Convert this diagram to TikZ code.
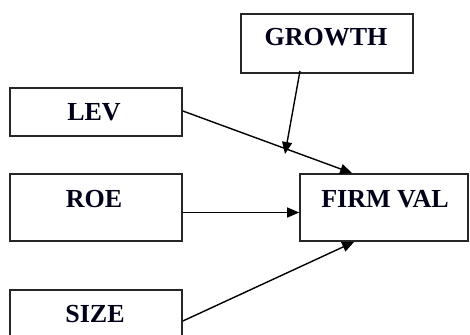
\documentclass[tikz,border=0pt]{standalone}
\usepackage{fontspec}
\setmainfont{Liberation Serif}
\usetikzlibrary{arrows.meta,calc}
\begin{document}
\begin{tikzpicture}[x=1pt,y=-1pt,
  box/.style={draw=black!85,line width=1.7pt,rectangle,inner sep=0pt},
  lbl/.style={inner sep=0pt,font=\fontsize{26}{30}\selectfont\bfseries,text=black!90!blue},
  conn/.style={line width=1.4pt,-{Triangle[length=12pt,width=10pt]}}]
\useasboundingbox (0,0) rectangle (470,334);
\node[box,minimum width=172pt,minimum height=59pt] (growth) at (327,43.5) {};
\node[lbl] (growtht) at (326,37) {GROWTH};
\node[box,minimum width=172pt,minimum height=48pt] (lev) at (96,112) {};
\node[lbl] (levt) at (94,112) {LEV};
\node[box,minimum width=172pt,minimum height=67pt] (roe) at (96,207.5) {};
\node[lbl] (roet) at (94,199) {ROE};
\node[box,minimum width=168pt,minimum height=67pt] (firm) at (384,207.5) {};
\node[lbl] (firmt) at (385,199) {FIRM VAL};
\node[box,minimum width=172pt,minimum height=64pt] (size) at (96,322) {};
\node[lbl] (sizet) at (95,314) {SIZE};
\coordinate (gend) at (285,154);
\draw[conn] ($(lev.east)+(0,-1)$) -- ($(firm.north west)+(53,0)$);
\draw[conn] ($(growth.south)+(-27,-3)$) -- (gend);
\draw[conn] ($(roe.east)+(0,5)$) -- ($(firm.west)+(0,5)$);
\draw[conn] ($(size.east)+(0,-1)$) -- ($(firm.south west)+(55,0)$);
\end{tikzpicture}
\end{document}
